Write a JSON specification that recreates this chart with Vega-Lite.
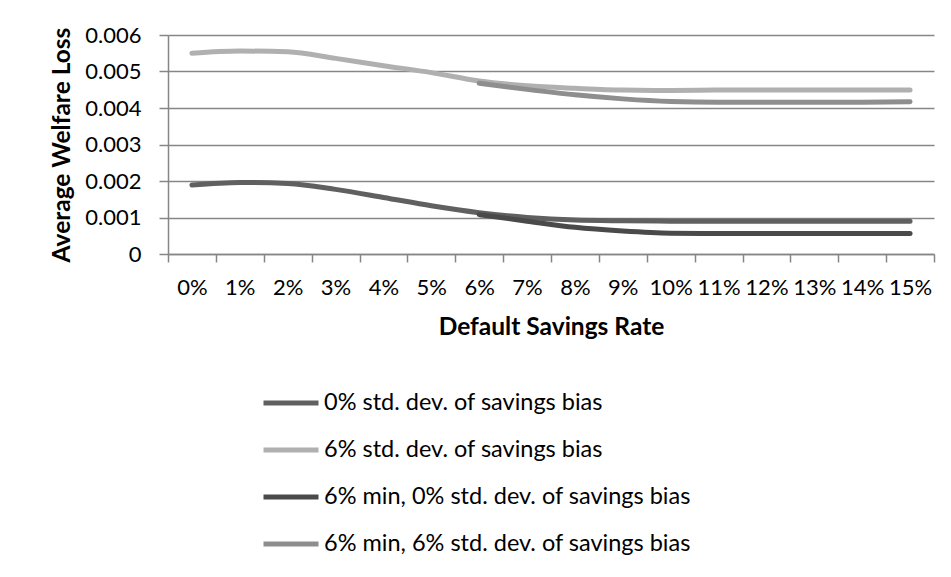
{
  "$schema": "https://vega.github.io/schema/vega-lite/v6.json",
  "width": 766,
  "height": 219,
  "autosize": {"type": "none"},
  "padding": {"left": 168, "top": 35, "right": 17, "bottom": 323},
  "background": "white",
  "config": {
    "font": "Lato",
    "view": {"stroke": null},
    "axis": {"labelFont": "Lato", "titleFont": "Lato", "labelColor": "#000000", "titleColor": "#000000"}
  },
  "data": {
    "values": [
      {"rate": "0%", "series": "0% std. dev. of savings bias", "loss": 0.00189},
      {"rate": "1%", "series": "0% std. dev. of savings bias", "loss": 0.00196},
      {"rate": "2%", "series": "0% std. dev. of savings bias", "loss": 0.00193},
      {"rate": "3%", "series": "0% std. dev. of savings bias", "loss": 0.00177},
      {"rate": "4%", "series": "0% std. dev. of savings bias", "loss": 0.00155},
      {"rate": "5%", "series": "0% std. dev. of savings bias", "loss": 0.00132},
      {"rate": "6%", "series": "0% std. dev. of savings bias", "loss": 0.00113},
      {"rate": "7%", "series": "0% std. dev. of savings bias", "loss": 0.00100},
      {"rate": "8%", "series": "0% std. dev. of savings bias", "loss": 0.00093},
      {"rate": "9%", "series": "0% std. dev. of savings bias", "loss": 0.00091},
      {"rate": "10%", "series": "0% std. dev. of savings bias", "loss": 0.00090},
      {"rate": "11%", "series": "0% std. dev. of savings bias", "loss": 0.00090},
      {"rate": "12%", "series": "0% std. dev. of savings bias", "loss": 0.00090},
      {"rate": "13%", "series": "0% std. dev. of savings bias", "loss": 0.00090},
      {"rate": "14%", "series": "0% std. dev. of savings bias", "loss": 0.00090},
      {"rate": "15%", "series": "0% std. dev. of savings bias", "loss": 0.00090},
      {"rate": "0%", "series": "6% std. dev. of savings bias", "loss": 0.00550},
      {"rate": "1%", "series": "6% std. dev. of savings bias", "loss": 0.00556},
      {"rate": "2%", "series": "6% std. dev. of savings bias", "loss": 0.00554},
      {"rate": "3%", "series": "6% std. dev. of savings bias", "loss": 0.00536},
      {"rate": "4%", "series": "6% std. dev. of savings bias", "loss": 0.00516},
      {"rate": "5%", "series": "6% std. dev. of savings bias", "loss": 0.00497},
      {"rate": "6%", "series": "6% std. dev. of savings bias", "loss": 0.00474},
      {"rate": "7%", "series": "6% std. dev. of savings bias", "loss": 0.00461},
      {"rate": "8%", "series": "6% std. dev. of savings bias", "loss": 0.00454},
      {"rate": "9%", "series": "6% std. dev. of savings bias", "loss": 0.00449},
      {"rate": "10%", "series": "6% std. dev. of savings bias", "loss": 0.00448},
      {"rate": "11%", "series": "6% std. dev. of savings bias", "loss": 0.00449},
      {"rate": "12%", "series": "6% std. dev. of savings bias", "loss": 0.00449},
      {"rate": "13%", "series": "6% std. dev. of savings bias", "loss": 0.00449},
      {"rate": "14%", "series": "6% std. dev. of savings bias", "loss": 0.00449},
      {"rate": "15%", "series": "6% std. dev. of savings bias", "loss": 0.00449},
      {"rate": "6%", "series": "6% min, 0% std. dev. of savings bias", "loss": 0.00108},
      {"rate": "7%", "series": "6% min, 0% std. dev. of savings bias", "loss": 0.00090},
      {"rate": "8%", "series": "6% min, 0% std. dev. of savings bias", "loss": 0.00073},
      {"rate": "9%", "series": "6% min, 0% std. dev. of savings bias", "loss": 0.00063},
      {"rate": "10%", "series": "6% min, 0% std. dev. of savings bias", "loss": 0.00057},
      {"rate": "11%", "series": "6% min, 0% std. dev. of savings bias", "loss": 0.00056},
      {"rate": "12%", "series": "6% min, 0% std. dev. of savings bias", "loss": 0.00056},
      {"rate": "13%", "series": "6% min, 0% std. dev. of savings bias", "loss": 0.00056},
      {"rate": "14%", "series": "6% min, 0% std. dev. of savings bias", "loss": 0.00056},
      {"rate": "15%", "series": "6% min, 0% std. dev. of savings bias", "loss": 0.00056},
      {"rate": "6%", "series": "6% min, 6% std. dev. of savings bias", "loss": 0.00468},
      {"rate": "7%", "series": "6% min, 6% std. dev. of savings bias", "loss": 0.00451},
      {"rate": "8%", "series": "6% min, 6% std. dev. of savings bias", "loss": 0.00436},
      {"rate": "9%", "series": "6% min, 6% std. dev. of savings bias", "loss": 0.00425},
      {"rate": "10%", "series": "6% min, 6% std. dev. of savings bias", "loss": 0.00418},
      {"rate": "11%", "series": "6% min, 6% std. dev. of savings bias", "loss": 0.00416},
      {"rate": "12%", "series": "6% min, 6% std. dev. of savings bias", "loss": 0.00416},
      {"rate": "13%", "series": "6% min, 6% std. dev. of savings bias", "loss": 0.00416},
      {"rate": "14%", "series": "6% min, 6% std. dev. of savings bias", "loss": 0.00416},
      {"rate": "15%", "series": "6% min, 6% std. dev. of savings bias", "loss": 0.00417}
    ]
  },
  "mark": {"type": "line", "strokeWidth": 5, "strokeCap": "round", "strokeJoin": "round", "interpolate": "monotone"},
  "encoding": {
    "x": {
      "field": "rate",
      "type": "ordinal",
      "sort": ["0%", "1%", "2%", "3%", "4%", "5%", "6%", "7%", "8%", "9%", "10%", "11%", "12%", "13%", "14%", "15%"],
      "bandPosition": 0.5,
      "scale": {"type": "band", "paddingInner": 0, "paddingOuter": 0},
      "axis": {
        "title": "Default Savings Rate",
        "titleFontSize": 24.5,
        "titleFontWeight": "bold",
        "titlePadding": 17,
        "labelFontSize": 22,
        "labelAngle": 0,
        "labelPadding": 15,
        "tickBand": "extent",
        "tickSize": 8,
        "tickColor": "#868686",
        "domainColor": "#868686",
        "domainWidth": 1.5,
        "tickWidth": 1.5,
        "grid": false
      }
    },
    "y": {
      "field": "loss",
      "type": "quantitative",
      "scale": {"domain": [0, 0.006], "nice": false},
      "axis": {
        "title": "Average Welfare Loss",
        "titleFontSize": 24.5,
        "titleFontWeight": "bold",
        "titlePadding": 10,
        "values": [0, 0.001, 0.002, 0.003, 0.004, 0.005, 0.006],
        "labelExpr": "datum.value == 0 ? '0' : format(datum.value, '.3f')",
        "labelFontSize": 22,
        "labelPadding": 18,
        "tickSize": 9,
        "tickColor": "#868686",
        "domainColor": "#868686",
        "domainWidth": 1.5,
        "tickWidth": 1.5,
        "grid": true,
        "gridColor": "#868686",
        "gridWidth": 1.5
      }
    },
    "color": {
      "field": "series",
      "type": "nominal",
      "sort": ["0% std. dev. of savings bias", "6% std. dev. of savings bias", "6% min, 0% std. dev. of savings bias", "6% min, 6% std. dev. of savings bias"],
      "scale": {
        "domain": ["0% std. dev. of savings bias", "6% std. dev. of savings bias", "6% min, 0% std. dev. of savings bias", "6% min, 6% std. dev. of savings bias"],
        "range": ["#606060", "#b0b0b0", "#4a4a4a", "#8e8e8e"]
      },
      "legend": {
        "title": null,
        "orient": "none",
        "legendX": 93,
        "legendY": 338,
        "direction": "vertical",
        "symbolType": "stroke",
        "symbolSize": 3025,
        "symbolStrokeWidth": 5,
        "symbolOffset": 0,
        "labelFontSize": 23.5,
        "labelOffset": 3,
        "labelColor": "#000000",
        "rowPadding": 5,
        "labelLimit": 500
      }
    }
  }
}
